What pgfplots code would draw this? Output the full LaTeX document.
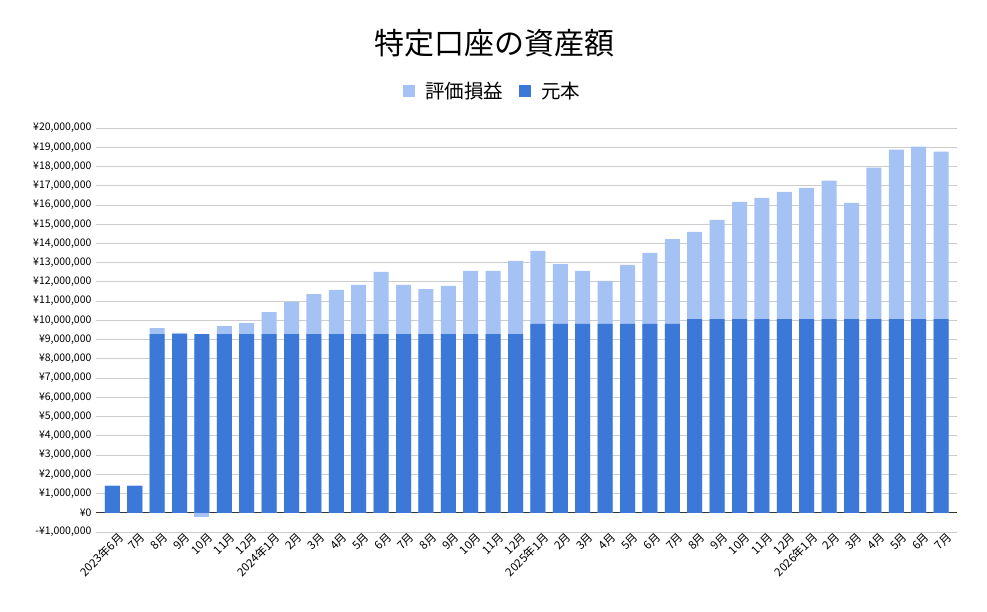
\documentclass[border=0pt]{standalone}
\usepackage{fontspec}
\setmainfont{Noto Sans CJK JP}
\usepackage{pgfplots}
\usepackage{pgfplotstable}
\pgfplotsset{compat=1.18}
\definecolor{lightb}{HTML}{A4C2F4}
\definecolor{mainb}{HTML}{3C78D8}
\definecolor{gridc}{HTML}{CCCCCC}

\pgfplotstableread{
x base gain
0 1390000 40000
1 1390000 40000
2 9290000 310000
3 9290000 60000
4 9290000 -230000
5 9290000 410000
6 9290000 570000
7 9290000 1140000
8 9290000 1670000
9 9290000 2080000
10 9290000 2290000
11 9290000 2550000
12 9290000 3230000
13 9290000 2550000
14 9290000 2340000
15 9290000 2500000
16 9290000 3280000
17 9290000 3280000
18 9290000 3800000
19 9820000 3790000
20 9820000 3110000
21 9820000 2750000
22 9820000 2230000
23 9820000 3070000
24 9820000 3690000
25 9820000 4410000
26 10070000 4530000
27 10070000 5150000
28 10070000 6090000
29 10070000 6300000
30 10070000 6610000
31 10070000 6820000
32 10070000 7190000
33 10070000 6040000
34 10070000 7870000
35 10070000 8800000
36 10070000 8960000
37 10070000 8700000
}\data

\begin{document}
\begin{tikzpicture}[x=1pt,y=1pt]
\useasboundingbox (0,0) rectangle (987,611);
\node[font=\fontsize{30}{34}\selectfont] at (494,568) {特定口座の資産額};
\begin{axis}[
  at={(96pt,79pt)}, anchor=south west,
  scale only axis, width=861pt, height=404pt,
  xmin=-0.73, xmax=37.71,
  ymin=-1000000, ymax=20000000,
  scaled y ticks=false,
  ybar, bar width=15pt, bar shift=0pt,
  axis line style={draw=none},
  major tick length=0pt,
  ymajorgrids, grid style={gridc, line width=0.9pt},
  ytick={-1000000,0,1000000,2000000,3000000,4000000,5000000,6000000,7000000,8000000,9000000,10000000,11000000,12000000,13000000,14000000,15000000,16000000,17000000,18000000,19000000,20000000},
  yticklabels={{-¥1,000,000},{¥0},{¥1,000,000},{¥2,000,000},{¥3,000,000},{¥4,000,000},{¥5,000,000},{¥6,000,000},{¥7,000,000},{¥8,000,000},{¥9,000,000},{¥10,000,000},{¥11,000,000},{¥12,000,000},{¥13,000,000},{¥14,000,000},{¥15,000,000},{¥16,000,000},{¥17,000,000},{¥18,000,000},{¥19,000,000},{¥20,000,000}},
  yticklabel style={font=\fontsize{10.5}{12}\selectfont, anchor=east, xshift=-1pt},
  extra y ticks={0}, extra y tick labels={},
  extra y tick style={grid style={black!80, line width=1pt}},
  xtick={0,...,37},
  xticklabels={2023年6月,7月,8月,9月,10月,11月,12月,2024年1月,2月,3月,4月,5月,6月,7月,8月,9月,10月,11月,12月,2025年1月,2月,3月,4月,5月,6月,7月,8月,9月,10月,11月,12月,2026年1月,2月,3月,4月,5月,6月,7月},
  xticklabel style={font=\fontsize{11.5}{13}\selectfont, rotate=45, anchor=north east, inner sep=1pt, xshift=5pt, yshift=-2pt},
  legend columns=2,
  legend style={at={(0.461,1.0907)}, anchor=center, draw=none, fill=none,
    font=\fontsize{19.5}{22}\selectfont,
    /tikz/every odd column/.append style={column sep=8pt},
    /tikz/every even column/.append style={column sep=14pt}},
  legend image code/.code={\fill[#1] (0pt,-6pt) rectangle (12pt,6pt);},
]
\addplot[fill=lightb, draw=none] table[x=x, y expr=\thisrow{base}+\thisrow{gain}] {\data};
\addlegendentry{評価損益}
\addplot[fill=mainb, draw=none] table[x=x, y=base] {\data};
\addlegendentry{元本}
\addplot[fill=lightb, draw=none, forget plot] coordinates {(4,-230000)};
\end{axis}
\end{tikzpicture}
\end{document}
